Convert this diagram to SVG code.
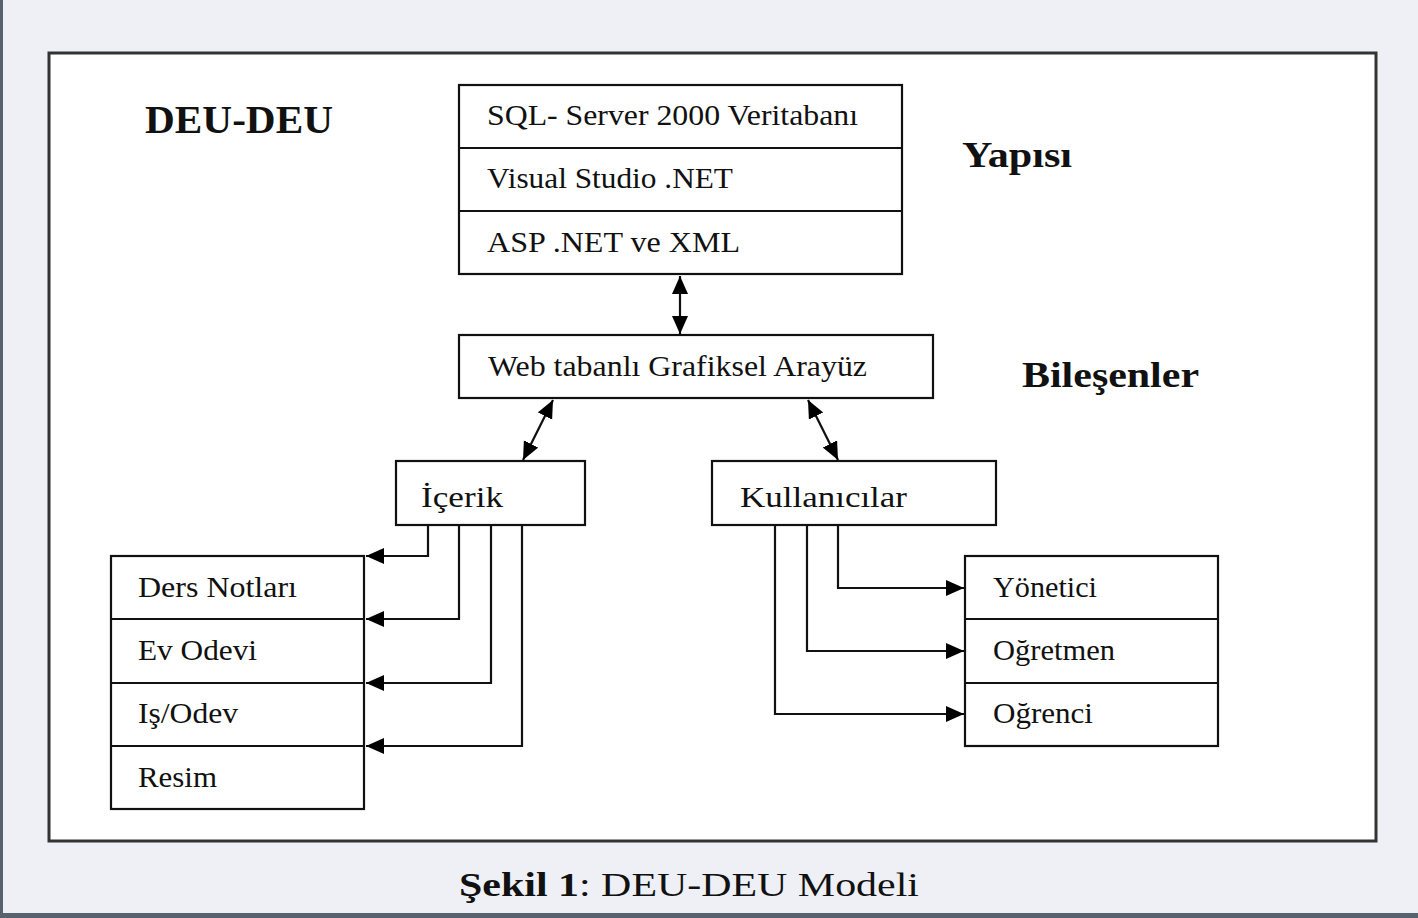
<svg xmlns="http://www.w3.org/2000/svg" width="1418" height="918" viewBox="0 0 1418 918">
<defs>
<marker id="ah" markerUnits="userSpaceOnUse" markerWidth="20" markerHeight="18" refX="18" refY="8" orient="auto-start-reverse" viewBox="0 0 20 18">
<path d="M0,0 L18,8 L0,16 Z" fill="#000"/>
</marker>
</defs>
<style>
.box{fill:#fff;stroke:#111;stroke-width:2.2}
.div{stroke:#111;stroke-width:2.2}
.t{font-family:"Liberation Serif","Times New Roman",serif;font-size:30px;fill:#111}
.h{font-family:"Liberation Serif","Times New Roman",serif;font-weight:bold;fill:#111}
.c{fill:none;stroke:#111;stroke-width:2.2}
</style>
<rect x="0" y="0" width="1418" height="918" fill="#eef0f5"/>
<rect x="0" y="0" width="3" height="918" fill="#56626e"/>
<rect x="0" y="913" width="1418" height="5" fill="#56626e"/>
<rect x="49" y="53" width="1327" height="788" fill="#fff" stroke="#333" stroke-width="3"/>

<g id="title">
<text class="h" x="145" y="133" font-size="40" textLength="188" lengthAdjust="spacingAndGlyphs">DEU-DEU</text>
</g>
<g id="label-yapisi">
<text class="h" x="962" y="167" font-size="36" textLength="110" lengthAdjust="spacingAndGlyphs">Yapısı</text>
</g>
<g id="label-bilesenler">
<text class="h" x="1022" y="387" font-size="36" textLength="177" lengthAdjust="spacingAndGlyphs">Bileşenler</text>
</g>

<g id="stack">
<rect class="box" x="459" y="85" width="443" height="189"/>
<line class="div" x1="459" y1="148" x2="902" y2="148"/>
<line class="div" x1="459" y1="211" x2="902" y2="211"/>
<text class="t" x="487" y="125" textLength="371" lengthAdjust="spacingAndGlyphs">SQL- Server 2000 Veritabanı</text>
<text class="t" x="487" y="188" textLength="246" lengthAdjust="spacingAndGlyphs">Visual Studio .NET</text>
<text class="t" x="487" y="252" textLength="253" lengthAdjust="spacingAndGlyphs">ASP .NET ve XML</text>
</g>

<g id="web">
<rect class="box" x="459" y="335" width="474" height="63"/>
<text class="t" x="488" y="376" textLength="379" lengthAdjust="spacingAndGlyphs">Web tabanlı Grafiksel Arayüz</text>
</g>

<g id="icerik">
<rect class="box" x="396" y="461" width="189" height="64"/>
<text class="t" x="421" y="507" textLength="82" lengthAdjust="spacingAndGlyphs">İçerik</text>
</g>

<g id="kullanicilar">
<rect class="box" x="712" y="461" width="284" height="64"/>
<text class="t" x="740" y="507" textLength="167" lengthAdjust="spacingAndGlyphs">Kullanıcılar</text>
</g>

<g id="icerik-list">
<rect class="box" x="111" y="556" width="253" height="253"/>
<line class="div" x1="111" y1="619" x2="364" y2="619"/>
<line class="div" x1="111" y1="683" x2="364" y2="683"/>
<line class="div" x1="111" y1="746" x2="364" y2="746"/>
<text class="t" x="138" y="597" textLength="159" lengthAdjust="spacingAndGlyphs">Ders Notları</text>
<text class="t" x="138" y="660" textLength="119" lengthAdjust="spacingAndGlyphs">Ev Odevi</text>
<text class="t" x="138" y="723" textLength="100" lengthAdjust="spacingAndGlyphs">Iş/Odev</text>
<text class="t" x="138" y="787" textLength="79" lengthAdjust="spacingAndGlyphs">Resim</text>
</g>

<g id="kullanici-list">
<rect class="box" x="965" y="556" width="253" height="190"/>
<line class="div" x1="965" y1="619" x2="1218" y2="619"/>
<line class="div" x1="965" y1="683" x2="1218" y2="683"/>
<text class="t" x="993" y="597" textLength="104" lengthAdjust="spacingAndGlyphs">Yönetici</text>
<text class="t" x="993" y="660" textLength="122" lengthAdjust="spacingAndGlyphs">Oğretmen</text>
<text class="t" x="993" y="723" textLength="100" lengthAdjust="spacingAndGlyphs">Oğrenci</text>
</g>

<g id="connectors">
<line class="c" x1="680" y1="276" x2="680" y2="334" marker-start="url(#ah)" marker-end="url(#ah)"/>
<line class="c" x1="553" y1="400" x2="523" y2="460" marker-start="url(#ah)" marker-end="url(#ah)"/>
<line class="c" x1="808" y1="400" x2="838" y2="460" marker-start="url(#ah)" marker-end="url(#ah)"/>
<polyline class="c" points="428,525 428,556 366,556" marker-end="url(#ah)"/>
<polyline class="c" points="459,525 459,619 366,619" marker-end="url(#ah)"/>
<polyline class="c" points="491,525 491,683 366,683" marker-end="url(#ah)"/>
<polyline class="c" points="522,525 522,746 366,746" marker-end="url(#ah)"/>
<polyline class="c" points="838,525 838,588 964,588" marker-end="url(#ah)"/>
<polyline class="c" points="807,525 807,651 964,651" marker-end="url(#ah)"/>
<polyline class="c" points="775,525 775,714 964,714" marker-end="url(#ah)"/>
</g>

<g id="caption">
<text x="459" y="896" font-family="'Liberation Serif','Times New Roman',serif" font-size="34" fill="#111" textLength="460" lengthAdjust="spacingAndGlyphs"><tspan font-weight="bold">Şekil 1</tspan>: DEU-DEU Modeli</text>
</g>
</svg>
